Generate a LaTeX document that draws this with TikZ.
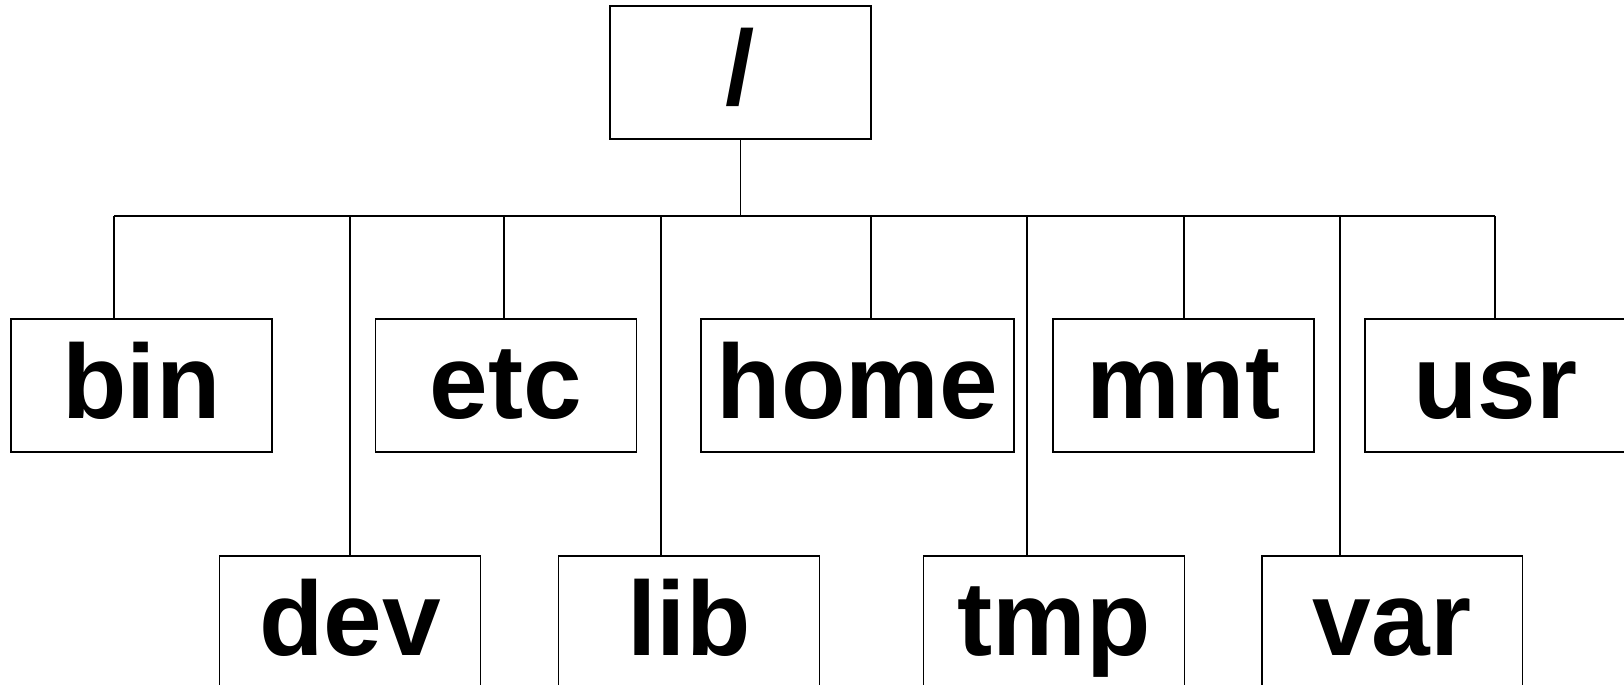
\documentclass[tikz,border=0pt]{standalone}
\usepackage{fontspec}
\setmainfont{Liberation Sans}
\usepackage{tikz}
\usetikzlibrary{positioning,calc}
\tikzset{dirbox/.style={draw, line width=1.1pt, minimum width=5.22cm, minimum height=2.66cm, inner sep=0pt,
		text height=1.5cm, text depth=0.2cm, font=\fontsize{60}{72}\selectfont\bfseries}}

\begin{document}
\begin{tikzpicture}[x=0.02cm,y=-0.02cm,line width=1.1pt]
	\useasboundingbox (0,0) rectangle (1624,684);
	\clip (0,0) rectangle (1624,684);
	%
	% root
	\node[dirbox] (root) at (740.5,72.5) {/};
	
	% first row
	\node[dirbox] (bin) at (141.5,385.5) {bin};
	\node[dirbox] (etc) at (506,385.5) {etc};
	\node[dirbox, minimum width=6.26cm] (home) at (857.5,385.5) {home};
	\node[dirbox] (mnt) at (1183.5,385.5) {mnt};
	\node[dirbox] (usr) at (1495.5,385.5) {usr};
	% second row
	\node[dirbox] (dev) at (350,622.5) {dev};
	\node[dirbox] (lib) at (689,622.5) {lib};
	\node[dirbox] (tmp) at (1054,622.5) {tmp};
	\node[dirbox] (var) at (1392,622.5) {var};
	%
	\foreach \n/\x in {bin/114,dev/350,etc/504,lib/661,home/871,tmp/1027,mnt/1184,var/1340,usr/1495}
	{
		\coordinate (bus-\n) at (\x,216);
		\draw (bus-\n) -- (bus-\n |- \n.north);
	}
	\draw (bus-bin) -- (bus-usr);
	\draw (root.south) -- (root.south |- bus-bin);
\end{tikzpicture}
\end{document}
